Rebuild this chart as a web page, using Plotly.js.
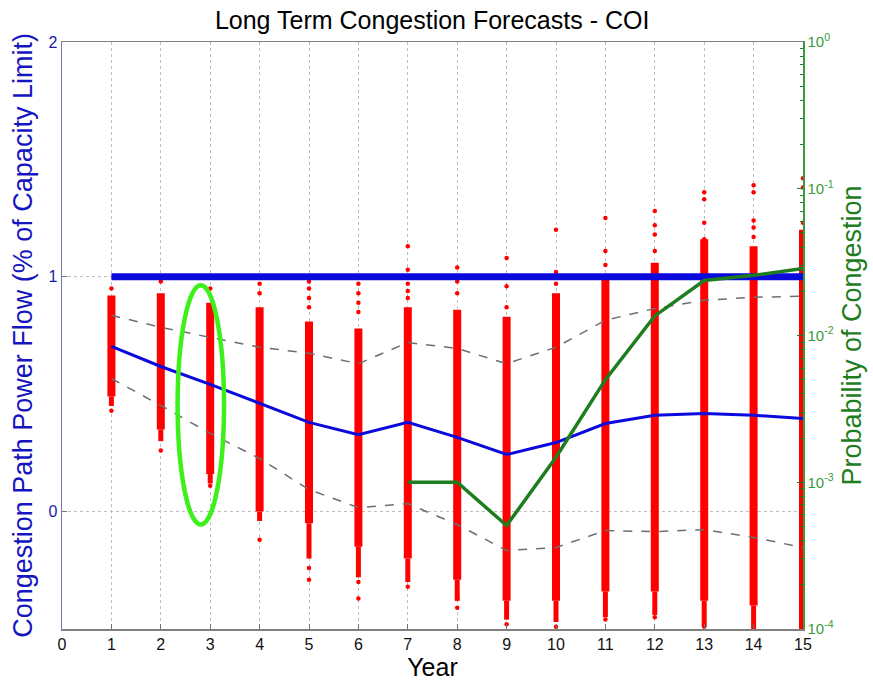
<!DOCTYPE html>
<html>
<head>
<meta charset="utf-8">
<script src="https://cdn.plot.ly/plotly-3.0.1.min.js"></script>
<style>html,body{margin:0;padding:0;background:#fff;}#chart{width:873px;height:686px;}</style>
</head>
<body>
<div id="chart"></div>
<script>
// ---- data ----
var years = [1,2,3,4,5,6,7,8,9,10,11,12,13,14,15];
// mean power flow (fraction of capacity limit)
var meanFlow  = [0.704,0.618,0.542,0.46,0.38,0.328,0.38,0.316,0.243,0.294,0.375,0.41,0.418,0.41,0.397];
// upper / lower dashed bands
var upperBand = [0.836,0.785,0.742,0.70,0.674,0.63,0.72,0.695,0.63,0.70,0.815,0.865,0.90,0.913,0.917];
var lowerBand = [0.567,0.452,0.333,0.226,0.094,0.017,0.034,-0.055,-0.166,-0.153,-0.081,-0.085,-0.077,-0.11,-0.153];
// capacity limit
var capacityLimit = 1.0;
// probability of congestion (years 7..15)
var probYears = [7,8,9,10,11,12,13,14,15];
var probValues = [1.0e-3,1.0e-3,5.07e-4,1.48e-3,5.0e-3,0.0136,0.0237,0.0257,0.0286];
// Monte Carlo sample clouds: dense core range, sparse lower tail
var coreHi = [0.92,0.93,0.89,0.87,0.81,0.78,0.87,0.86,0.83,0.93,1.00,1.06,1.16,1.13,1.20];
var coreLo = [0.49,0.35,0.16,0.00,-0.05,-0.15,-0.20,-0.29,-0.38,-0.38,-0.34,-0.34,-0.38,-0.40,-0.50];
var tailLo = [0.45,0.30,0.12,-0.04,-0.20,-0.28,-0.30,-0.38,-0.46,-0.47,-0.45,-0.44,-0.49,-0.50,-0.50];
// isolated sample points outside the dense columns
var outlierYear  = [1,1,2,2,3,3,4,4,4,5,5,5,5,5,5,6,6,6,6,6,6,7,7,7,7,7,7,8,8,8,8,8,9,9,9,9,10,10,10,10,11,11,11,11,12,12,12,12,12,13,13,13,13,13,14,14,14,14,14,14,15,15,15];
var outlierValue = [0.95,0.43,0.98,0.26,0.95,0.11,0.97,0.93,-0.12,0.98,0.95,0.91,0.87,-0.24,-0.29,0.97,0.93,0.89,0.85,-0.30,-0.37,1.13,1.03,0.97,0.94,0.91,-0.32,1.04,0.98,0.93,-0.37,-0.41,1.08,0.96,0.87,-0.48,1.20,1.02,0.97,-0.49,1.25,1.11,1.05,-0.46,1.28,1.22,1.18,1.11,-0.45,1.36,1.33,1.23,1.16,-0.49,1.39,1.36,1.24,1.21,1.17,-0.50,1.42,1.38,1.23];
// tick labels
var xTicks = [0,1,2,3,4,5,6,7,8,9,10,11,12,13,14,15];
var yTicks = [0,1,2];
var y2Decades = [-4,-3,-2,-1,0];
var minorMultipliers = [2,3,4,5,6,7,8,9];
// highlight ellipse (year / flow units)
var ellipse = {x0:2.34, x1:3.28, y0:-0.055, y1:0.964};

// ---- build segment traces ----
function segs(lo, hi){
  var x=[], y=[];
  for (var i=0;i<years.length;i++){ x.push(years[i],years[i],null); y.push(lo[i],hi[i],null); }
  return {x:x,y:y};
}
var core = segs(coreLo, coreHi);
var tail = segs(tailLo, coreLo);

// log axis ticks: labelled decades (y2), unlabelled minor positions (y3)
var y2Vals = [], y2Text = [], y3Vals = [];
y2Decades.forEach(function(d){
  y2Vals.push(Math.pow(10,d)); y2Text.push('10<sup>'+d+'</sup>');
  if (d < 0) minorMultipliers.forEach(function(m){ y3Vals.push(m*Math.pow(10,d)); });
});

var RED = '#ff0000', BLUE = '#0a0adc', GREEN = '#1e7d1e', FONT = 'Liberation Sans, Arial, sans-serif';

var traces = [
  {x:tail.x, y:tail.y, mode:'lines', line:{color:RED, width:5}, hoverinfo:'skip'},
  {x:core.x, y:core.y, mode:'lines', line:{color:RED, width:8}, hoverinfo:'skip'},
  {x:outlierYear, y:outlierValue, mode:'markers', marker:{color:RED, size:4.5}, hoverinfo:'skip'},
  {x:years, y:upperBand, mode:'lines', line:{color:'#6e6e6e', width:1.5, dash:'dash'}},
  {x:years, y:lowerBand, mode:'lines', line:{color:'#6e6e6e', width:1.5, dash:'dash'}},
  {x:years, y:meanFlow, mode:'lines', line:{color:BLUE, width:3}},
  {x:[years[0], years[years.length-1]], y:[capacityLimit, capacityLimit], mode:'lines', line:{color:BLUE, width:7}},
  {x:[], y:[], yaxis:'y3', mode:'lines', hoverinfo:'skip'},
  {x:probYears, y:probValues, yaxis:'y2', mode:'lines', line:{color:GREEN, width:3.5}}
];

var layout = {
  width:873, height:686,
  margin:{l:62, r:70, t:42, b:57},
  paper_bgcolor:'#ffffff', plot_bgcolor:'#ffffff',
  showlegend:false, hovermode:false,
  font:{family:FONT},
  title:{text:'Long Term Congestion Forecasts - COI', font:{family:FONT, size:25, color:'#000'}, x:0.495, xanchor:'center', y:0.97, yanchor:'middle'},
  xaxis:{range:[0,15], tickvals:xTicks, ticks:'inside', ticklen:5, tickcolor:'#707070',
    showline:true, linecolor:'#808080', linewidth:1.5, mirror:true,
    showgrid:true, gridcolor:'#bdbdbd', griddash:'dot', gridwidth:1, zeroline:false,
    tickfont:{size:16, color:'#111'},
    title:{text:'Year', font:{size:25, color:'#000'}, standoff:6}},
  yaxis:{range:[-0.5,2], tickvals:yTicks, ticks:'inside', ticklen:5, tickcolor:'#7070a8',
    showline:true, linecolor:'#7878b0', linewidth:1.5,
    showgrid:true, gridcolor:'#bdbdbd', griddash:'dot', zeroline:false,
    tickfont:{size:16, color:'#1a1aa8'},
    title:{text:'Congestion Path Power Flow (% of Capacity Limit)', font:{size:27, color:'#1515c0'}, standoff:8}},
  yaxis2:{overlaying:'y', side:'right', type:'log', range:[-4,0], tickvals:y2Vals, ticktext:y2Text,
    ticks:'inside', ticklen:6, tickcolor:GREEN, showline:true, linecolor:'#3a9a3a', linewidth:1.5,
    showgrid:false, zeroline:false,
    tickfont:{size:15, color:'#3a9a3a'},
    title:{text:'Probability of Congestion', font:{size:27, color:GREEN}, standoff:9}},
  yaxis3:{overlaying:'y', side:'right', type:'log', range:[-4,0], tickvals:y3Vals,
    ticks:'inside', ticklen:3, tickcolor:GREEN, showticklabels:false, showline:false,
    showgrid:false, zeroline:false},
  shapes:[{type:'circle', xref:'x', yref:'y', x0:ellipse.x0, x1:ellipse.x1, y0:ellipse.y0, y1:ellipse.y1,
    line:{color:'#3df01a', width:4.5}, layer:'above'}]
};

Plotly.newPlot('chart', traces, layout, {staticPlot:true, displayModeBar:false});
</script>
</body>
</html>
